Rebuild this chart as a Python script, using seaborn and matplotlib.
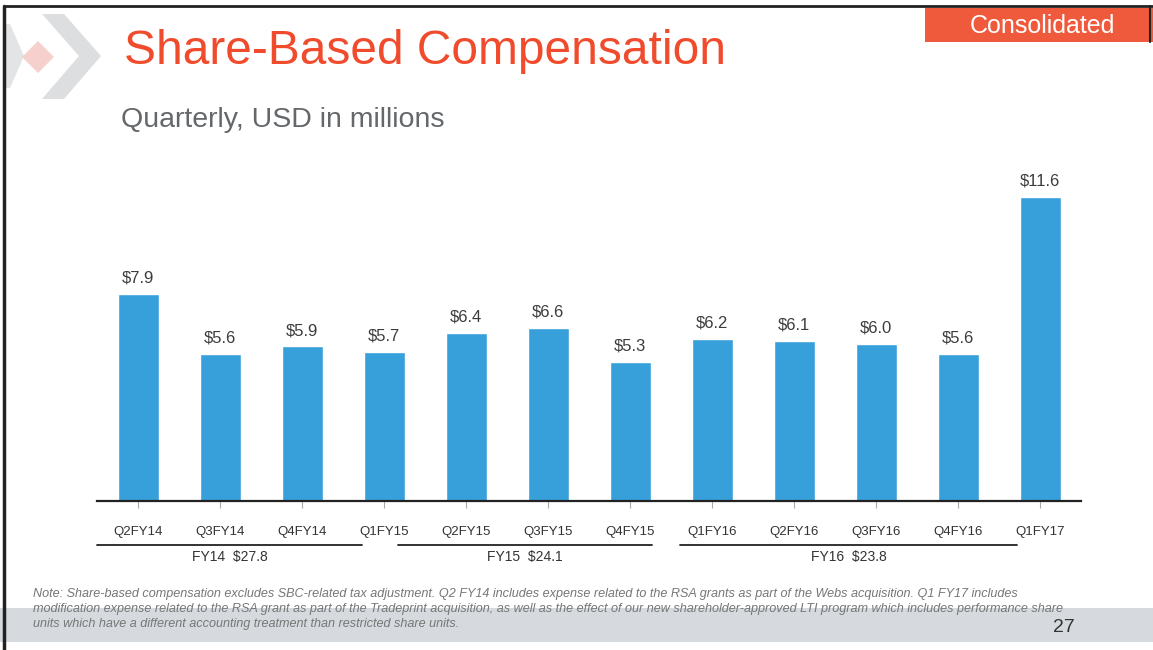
import matplotlib
matplotlib.use("Agg")
import matplotlib.pyplot as plt
import seaborn as sns
import pandas as pd
from matplotlib.patches import Polygon, Rectangle

# ---- data ----
quarters = ["Q2FY14", "Q3FY14", "Q4FY14", "Q1FY15", "Q2FY15", "Q3FY15", "Q4FY15",
            "Q1FY16", "Q2FY16", "Q3FY16", "Q4FY16", "Q1FY17"]
sbc_values = [7.9, 5.6, 5.9, 5.7, 6.4, 6.6, 5.3, 6.2, 6.1, 6.0, 5.6, 11.6]
fy_labels = ["FY14  $27.8", "FY15  $24.1", "FY16  $23.8"]

title = "Share-Based Compensation"
subtitle = "Quarterly, USD in millions"
badge = "Consolidated"
note_lines = [
    "Note: Share-based compensation excludes SBC-related tax adjustment. Q2 FY14 includes expense related to the RSA grants as part of the Webs acquisition. Q1 FY17 includes",
    "modification expense related to the RSA grant as part of the Tradeprint acquisition, as well as the effect of our new shareholder-approved LTI program which includes performance share",
    "units which have a different accounting treatment than restricted share units.",
]
page_number = "27"

# ---- layout (not data) ----
fy_spans = [(-0.5, 2.73), (3.17, 6.27), (6.61, 10.72)]

W, H = 1153, 650
sns.set_theme(style="white")
plt.rcParams["font.family"] = ["Liberation Sans", "DejaVu Sans"]

fig = plt.figure(figsize=(W / 100, H / 100), dpi=100)
fig.patch.set_facecolor("white")

def px(x, y):
    return x / W, 1 - y / H

# gray footer band
fig.patches.append(Rectangle(px(0, 642), 1, 34 / H, transform=fig.transFigure,
                             facecolor="#d6dade", edgecolor="none", zorder=0))

# faded logo
def poly(pts, color):
    fig.patches.append(Polygon([px(x, y) for x, y in pts], closed=True,
                               transform=fig.transFigure, facecolor=color,
                               edgecolor="none", zorder=0))
poly([(42, 14), (64, 14), (101, 56), (64, 99), (42, 99), (79, 56)], "#dcdedf")
poly([(5, 24), (10, 24), (24, 56), (10, 88), (5, 88)], "#e3e4e5")
poly([(38, 41), (54, 57), (38, 73), (22, 57)], "#f6d0cc")

# badge
fig.patches.append(Rectangle(px(925, 42), (1153 - 925) / W, 34 / H, transform=fig.transFigure,
                             facecolor="#f05a3c", edgecolor="none", zorder=1))
fig.text(*px(1042, 26), badge, color="white", fontsize=18, ha="center", va="center", zorder=2)

# frame
fig.add_artist(plt.Line2D([4 / W, 4 / W], [0, 1 - 6 / H], transform=fig.transFigure,
                          color="#222222", lw=2.5))
fig.add_artist(plt.Line2D([4 / W, 1], [1 - 6 / H, 1 - 6 / H], transform=fig.transFigure,
                          color="#222222", lw=2))
fig.add_artist(plt.Line2D([1150 / W, 1150 / W], [1 - 42 / H, 1 - 6 / H], transform=fig.transFigure,
                          color="#222222", lw=1.5))

# title / subtitle
fig.text(*px(124, 64), title, color="#f04b2d", fontsize=34.5, ha="left", va="baseline")
fig.text(*px(121, 127), subtitle, color="#64686b", fontsize=20.5, ha="left", va="baseline")

# ---- chart ----
df = pd.DataFrame({"quarter": quarters, "value": sbc_values})
ax = fig.add_axes([97 / W, (H - 501) / H, 984 / W, (501 - 173.5) / H])
sns.barplot(data=df, x="quarter", y="value", color="#37a0db", saturation=1,
            width=0.5, ax=ax, errorbar=None)
ax.set_xlim(-0.5, len(quarters) - 0.5)
ax.set_ylim(0, 12.5)
ax.set_facecolor("none")
for s in ["top", "right", "left"]:
    ax.spines[s].set_visible(False)
ax.spines["bottom"].set_color("#222222")
ax.spines["bottom"].set_linewidth(1.6)
ax.set_yticks([])
ax.set_xlabel("")
ax.set_ylabel("")
ax.tick_params(axis="x", direction="out", length=5, width=0.8, color="#aaaaaa",
               pad=13, labelsize=9.5, labelcolor="#333333", bottom=True)

for c in ax.containers:
    ax.bar_label(c, fmt="${:.1f}", padding=6, fontsize=12, color="#3c3c3c")

# fiscal-year brackets
for (x0, x1), lab in zip(fy_spans, fy_labels):
    ax.plot([x0, x1], [-1.68, -1.68], color="#222222", lw=1.3, clip_on=False)
    ax.text((x0 + x1) / 2, -2.12, lab, ha="center", va="center", fontsize=10,
            color="#333333", clip_on=False)

# note
for i, line in enumerate(note_lines):
    fig.text(*px(33, 594 + i * 15), line, fontsize=9.1, style="italic", color="#767676",
             ha="left", va="center")
fig.text(*px(1075, 627), page_number, fontsize=14, color="#333333", ha="right", va="center")

fig.savefig("out.png", dpi=100)
